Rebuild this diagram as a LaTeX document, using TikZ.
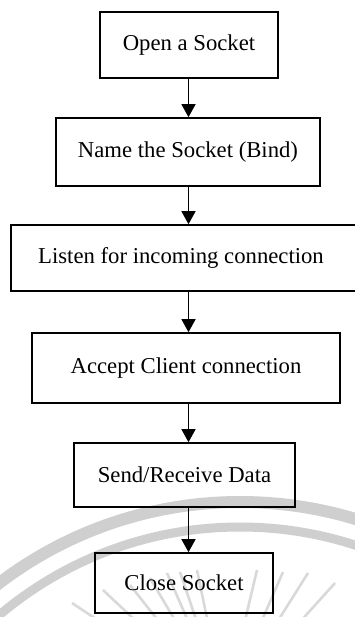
\documentclass[tikz,border=0pt]{standalone}
\usepackage{fontspec}
\setmainfont{Liberation Serif}
\usetikzlibrary{arrows.meta,calc}
\begin{document}
\begin{tikzpicture}[x=1pt,y=-1pt,
  box/.style={draw=black, line width=1.6pt, rectangle, inner sep=0pt,
    font=\fontsize{22.7}{27}\selectfont},
  lbl/.style={inner sep=0pt, font=\fontsize{22.7}{27}\selectfont},
  flow/.style={-{Triangle[length=13pt,width=14pt]}, line width=1.3pt},
  wmband/.style={draw=black!19},
  wmray/.style={draw=black!15, line width=2.6pt}]
\useasboundingbox (0,0) rectangle (355,617);
\fill[white] (0,0) rectangle (355,617);
\begin{scope}
\clip (0,0) rectangle (355,617);
% watermark
\draw[wmband, line width=12pt] (240,900) circle[radius=398pt];
\draw[wmband, line width=9pt] (240,900) circle[radius=373pt];
\coordinate (wc) at (225,705);
\foreach \px/\py in {72/603,103/590,130/585,150/578,167/573,180/572,197/570,257/570,283/572,308/573,335/583}
  \draw[wmray] (\px,\py) -- ($(\px,\py)!0.6!(wc)$);
% boxes
\node[box, minimum width=178pt, minimum height=66pt] (b1) at (189,45) {Open a Socket};
\node[box, minimum width=264pt, minimum height=68pt] (b2) at (188,152) {Name the Socket (Bind)};
\node[box, minimum width=351pt, minimum height=66pt] (b3) at (186.5,258) {};
\node[lbl] (t3) at (181,258) {Listen for incoming connection};
\node[box, minimum width=308pt, minimum height=70pt] (b4) at (186,368) {Accept Client connection};
\node[box, minimum width=221pt, minimum height=64pt] (b5) at (184.5,475) {Send/Receive Data};
\node[box, minimum width=178pt, minimum height=60pt] (b6) at (184,583) {Close Socket};
% arrows
\coordinate (ax) at (188.5,0);
\draw[flow] (b1.south -| ax) -- (b2.north -| ax);
\draw[flow] (b2.south -| ax) -- (b3.north -| ax);
\draw[flow] (b3.south -| ax) -- (b4.north -| ax);
\draw[flow] (b4.south -| ax) -- (b5.north -| ax);
\draw[flow] (b5.south -| ax) -- (b6.north -| ax);
\end{scope}
\end{tikzpicture}
\end{document}
